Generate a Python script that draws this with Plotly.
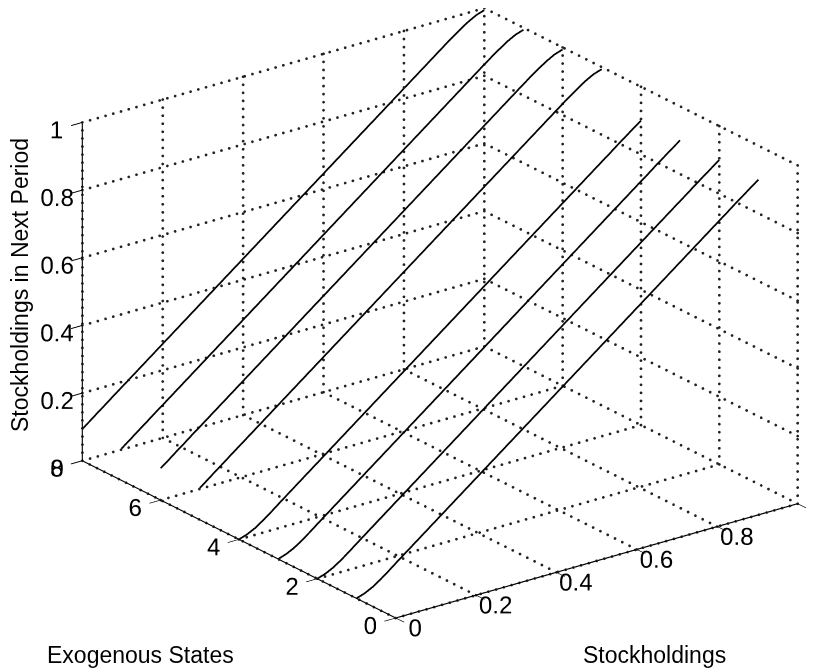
import numpy as np
import plotly.graph_objects as go

# ---- data ----
states = [1, 2, 3, 4, 5, 6, 7, 8]
stockholdings = [0, 0.02, 0.04, 0.06, 0.08, 0.1, 0.2, 0.3, 0.4, 0.5, 0.6,
                 0.7, 0.8, 0.9, 0.92, 0.94, 0.96, 0.98, 1.0]
next_low = [0, 0.008, 0.02, 0.036, 0.054, 0.073, 0.165, 0.257, 0.349, 0.441,
            0.533, 0.625, 0.717, 0.809, 0.827, 0.846, 0.864, 0.882, 0.9]
next_high = [0.094, 0.112, 0.131, 0.149, 0.168, 0.186, 0.278, 0.37, 0.462,
             0.554, 0.646, 0.738, 0.83, 0.922, 0.94, 0.957, 0.973, 0.986, 0.994]
x_ticks = [0, 0.2, 0.4, 0.6, 0.8, 1]
x_labels = ["0", "0.2", "0.4", "0.6", "0.8", "1"]
y_ticks = [0, 2, 4, 6, 8]
y_labels = ["0", "2", "4", "6", "8"]
z_ticks = [0, 0.2, 0.4, 0.6, 0.8, 1]
z_labels = ["0", "0.2", "0.4", "0.6", "0.8", "1"]
x_range = [0, 1]
y_range = [0, 8]
z_range = [0, 1]

FONT = "Liberation Sans, Arial, Helvetica, sans-serif"
W, H = 809, 662      # page body has an 8 px margin inside the 817x670 window
OFF = 8

fig = go.Figure()

# dotted grid (drawn as small dots) on the floor and the two back walls,
# built from the tick arrays
gx, gy, gz = [], [], []
def dots(p, q, n):
    t = np.linspace(0, 1, n)
    gx.extend(list(p[0] + (q[0] - p[0]) * t))
    gy.extend(list(p[1] + (q[1] - p[1]) * t))
    gz.extend(list(p[2] + (q[2] - p[2]) * t))
NX, NY, NZ = 53, 44, 43   # dot counts along x, y and z spans
for xv in x_ticks:
    dots((xv, y_range[0], z_range[0]), (xv, y_range[1], z_range[0]), NY)
    dots((xv, y_range[1], z_range[0]), (xv, y_range[1], z_range[1]), NZ)
for yv in y_ticks:
    dots((x_range[0], yv, z_range[0]), (x_range[1], yv, z_range[0]), NX)
    dots((x_range[1], yv, z_range[0]), (x_range[1], yv, z_range[1]), NZ)
for zv in z_ticks:
    dots((x_range[0], y_range[1], zv), (x_range[1], y_range[1], zv), NX)
    dots((x_range[1], y_range[0], zv), (x_range[1], y_range[1], zv), NY)
fig.add_trace(go.Scatter3d(x=gx, y=gy, z=gz, mode="markers",
                           marker=dict(color="#222222", size=1.6, line=dict(width=0)),
                           hoverinfo="skip", showlegend=False))

for s in states:
    zvals = next_low if s <= 4 else next_high
    fig.add_trace(go.Scatter3d(x=stockholdings, y=[s] * len(stockholdings), z=zvals,
                               mode="lines", line=dict(color="black", width=3.5),
                               showlegend=False))

axis_common = dict(showgrid=False, zeroline=False, showbackground=False,
                   showline=True, linecolor="black", linewidth=2.5,
                   ticks="outside", ticklen=14, tickcolor="black", tickwidth=2,
                   tickangle=0,
                   tickfont=dict(family=FONT, size=17, color="black"),
                   title=dict(text=""), showspikes=False)

# camera: view direction and look-at shift (scene units)
view_dir = np.array([-0.557, -0.740, 0.378])
center = np.array([-0.0841, 0.0263, -0.0726])
eye = center + 2.0 * view_dir

fig.update_layout(
    width=W, height=H,
    margin=dict(l=0, r=0, t=0, b=0),
    paper_bgcolor="white",
    font=dict(family=FONT, color="black"),
    scene=dict(
        domain=dict(x=[0, 1], y=[0, 1]),
        xaxis=dict(range=x_range, tickvals=x_ticks, ticktext=x_labels, **axis_common),
        yaxis=dict(range=y_range, tickvals=y_ticks, ticktext=y_labels, **axis_common),
        zaxis=dict(range=z_range, tickvals=z_ticks, ticktext=z_labels, **axis_common),
        aspectmode="manual", aspectratio=dict(x=1.520, y=1.574, z=1.104),
        camera=dict(eye=dict(x=eye[0], y=eye[1], z=eye[2]),
                    up=dict(x=0, y=0, z=1),
                    center=dict(x=center[0], y=center[1], z=center[2]),
                    projection=dict(type="orthographic")),
    ),
)

def px_annot(text, xp, yp, angle=0):
    fig.add_annotation(text=text, x=(xp - OFF) / W, y=1 - (yp - OFF) / H,
                       xref="paper", yref="paper", xanchor="center", yanchor="middle",
                       showarrow=False, textangle=angle,
                       font=dict(family=FONT, size=23, color="black"))

px_annot("Exogenous States", 140, 655)
px_annot("Stockholdings", 654, 655)
px_annot("Stockholdings in Next Period", 20, 285, -90)

fig.write_html("out.html")
